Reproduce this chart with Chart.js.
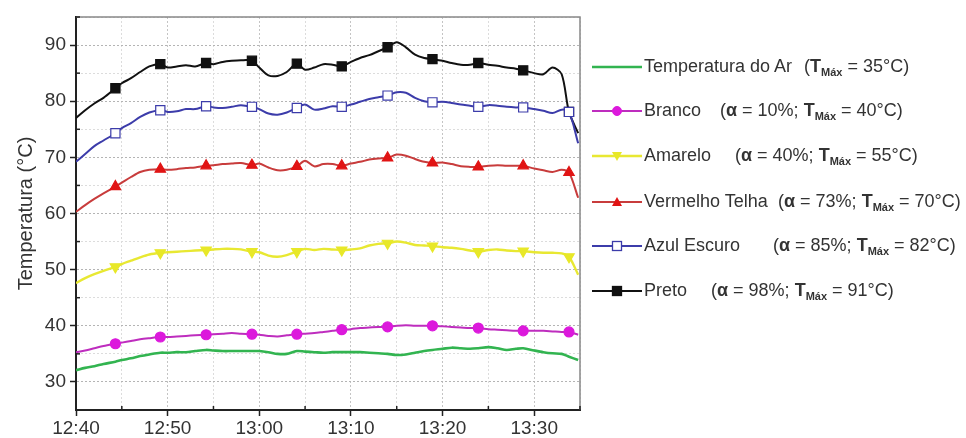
<!DOCTYPE html>
<html><head><meta charset="utf-8">
<script src="https://cdn.jsdelivr.net/npm/chart.js@4.4.0/dist/chart.umd.min.js"></script>
<style>
html,body{margin:0;padding:0;background:#fff;}
#wrap{position:relative;width:966px;height:438px;overflow:hidden;}
#c{position:absolute;left:0;top:0;}
#legend{position:absolute;left:0;top:0;width:966px;height:438px;pointer-events:none;font-family:"Liberation Sans",Arial,sans-serif;color:#333;font-size:18px;}
.item{position:absolute;left:0;height:22px;width:966px;white-space:nowrap;}
.item svg{position:absolute;left:592px;top:0;}
.item .nm{position:absolute;left:644px;top:0px;}
.item .par{position:absolute;top:0px;}
.item b{font-weight:bold;}
.item sub{font-size:11px;font-weight:bold;vertical-align:-4px;}
</style></head>
<body>
<div id="wrap"><canvas id="c" width="966" height="438"></canvas><div id="legend"></div></div>
<script>
// time in minutes after 12:40
const times = [0,1,2,3,4.3,5,6,7,8,9.2,10,11,12,13,14.2,15,16,17,18,19.2,20,21,22,23,24.1,25,26,27,28,29,30,31,32,33,34,35,36,37,38,38.9,40,41,42,43,43.9,45,46,47,48,48.8,50,51,52,53,53.8,54.8];
const markerTimes = [4.3,9.2,14.2,19.2,24.1,29,34,38.9,43.9,48.8,53.8];
const xTickLabels = ['12:40','12:50','13:00','13:10','13:20','13:30'];

const tempAr = [32.1,32.5,32.8,33.2,33.6, 33.9,34.2,34.6,34.9,35.2, 35.2,35.3,35.3,35.5,35.7, 35.6,35.5,35.5,35.5,35.5, 35.5,35.3,35.0,35.0,35.5, 35.4,35.3,35.2,35.3,35.3, 35.3,35.3,35.2,35.1,35.0, 34.8,34.9,35.2,35.5,35.7, 35.9,36.1,36.0,35.9,36.0, 36.2,36.0,35.7,35.9,36.0, 35.6,35.3,35.1,35.0,34.5, 33.9];
const branco = [35.3,35.6,36.0,36.4,36.8, 37.0,37.3,37.6,37.8,38.0, 38.0,38.1,38.2,38.3,38.4, 38.5,38.6,38.7,38.6,38.5, 38.4,38.2,38.1,38.3,38.5, 38.6,38.7,38.9,39.1,39.3, 39.4,39.6,39.7,39.8,39.8, 40.0,40.1,40.0,40.0,40.0, 39.9,39.8,39.7,39.6,39.6, 39.4,39.3,39.2,39.1,39.1, 39.1,39.1,39.0,38.9,38.9, 38.4];
const amarelo = [47.6,48.5,49.2,49.8,50.5, 51.0,51.6,52.2,52.7,53.0, 53.1,53.2,53.3,53.4,53.5, 53.6,53.7,53.7,53.6,53.2, 53.1,52.5,52.3,52.6,53.2, 53.7,53.5,53.7,53.6,53.5, 53.6,53.8,54.3,54.6,54.7, 55.0,54.8,54.4,54.3,54.2, 54.0,53.9,53.7,53.4,53.2, 53.5,53.6,53.4,53.3,53.3, 53.1,53.0,53.0,52.9,52.3, 49.1];
const vermelho = [60.3,61.5,62.6,63.6,64.8, 65.5,66.5,67.4,67.8,67.9, 67.8,67.9,68.1,68.2,68.5, 68.6,68.8,68.9,69.0,68.6, 68.9,68.2,67.7,67.8,68.4, 69.4,68.4,68.8,68.8,68.5, 68.9,69.2,69.6,69.8,69.9, 70.5,70.3,69.7,69.2,69.0, 69.1,68.8,68.4,68.3,68.3, 68.5,68.6,68.5,68.5,68.5, 68.0,67.7,67.4,67.8,67.3, 62.8];
const azul = [69.2,70.6,72.0,73.0,74.3, 75.2,76.1,77.2,78.0,78.4, 78.1,78.2,78.6,78.6,79.1, 78.9,78.8,79.0,79.3,79.0, 78.6,77.8,77.6,78.0,78.8, 79.4,78.5,78.7,79.1,79.0, 79.4,79.9,80.4,80.7,81.0, 81.6,81.5,80.6,80.0,79.8, 79.9,79.7,79.4,79.2,79.0, 79.3,79.2,79.0,78.9,78.9, 78.6,78.3,77.9,78.5,78.1, 72.5];
const preto = [77.0,78.4,79.6,80.6,82.3, 83.2,84.1,85.2,86.2,86.6, 86.0,86.2,86.4,86.2,86.8, 86.6,87.0,87.2,87.3,87.2, 86.0,84.6,84.5,85.2,86.7, 85.6,86.0,86.6,86.5,86.2, 87.0,87.7,88.2,88.9,89.6, 90.5,89.6,88.3,87.7,87.5, 87.2,86.8,86.5,86.5,86.8, 86.5,86.3,86.0,85.8,85.5, 85.0,84.8,86.0,84.8,78.1, 74.3];

const seriesNames = ['Temperatura do Ar','Branco','Amarelo','Vermelho Telha','Azul Escuro','Preto'];
const alphaPct = [null,10,40,73,85,98];
const tMax = [35,40,55,70,82,91];

const styles = [
  {line:'rgb(50,180,80)', fill:'rgb(50,180,80)', border:'rgb(50,180,80)', shape:null, r:0, rot:0, w:2.6},
  {line:'rgb(190,45,190)', fill:'rgb(220,25,220)', border:'rgb(220,25,220)', shape:'circle', r:5, rot:0, w:2},
  {line:'rgb(232,232,50)', fill:'rgb(232,232,40)', border:'rgb(232,232,40)', shape:'triangle', r:6, rot:180, w:2.4},
  {line:'rgb(200,60,60)', fill:'rgb(225,20,20)', border:'rgb(225,20,20)', shape:'triangle', r:6, rot:0, w:2},
  {line:'rgb(60,60,170)', fill:'#ffffff', border:'rgb(60,60,170)', shape:'rect', r:6.5, rot:0, w:2},
  {line:'#111111', fill:'#111111', border:'#111111', shape:'rect', r:6.5, rot:0, w:2}
];
const seriesValues = [tempAr, branco, amarelo, vermelho, azul, preto];

const datasets = seriesValues.map((vals,i)=>{
  const s = styles[i];
  return {
    label: seriesNames[i],
    data: times.map((t,k)=>({x:t,y:vals[k]})),
    borderColor: s.line,
    borderWidth: s.w,
    tension: 0.3,
    fill:false,
    pointStyle: s.shape || 'circle',
    pointRotation: s.rot,
    pointBackgroundColor: s.fill,
    pointBorderColor: s.border,
    pointBorderWidth: 1.2,
    pointRadius: ctx => (s.shape && markerTimes.includes(times[ctx.dataIndex])) ? s.r : 0,
    pointHoverRadius: 0
  };
});

const framePlugin = {
  id:'frame',
  beforeDatasetsDraw(chart){
    const {ctx, chartArea:a} = chart;
    ctx.save();
    ctx.strokeStyle = '#888';
    ctx.lineWidth = 1.5;
    ctx.beginPath();
    ctx.moveTo(a.left, a.top); ctx.lineTo(a.right, a.top); ctx.lineTo(a.right, a.bottom);
    ctx.stroke();
    ctx.restore();
  },
  afterDraw(chart){
    const {ctx, chartArea:a, scales} = chart;
    ctx.save();
    ctx.strokeStyle = '#222';
    ctx.lineWidth = 1.5;
    scales.x.ticks.forEach(t=>{
      if (t.value % 10 !== 0){
        const px = scales.x.getPixelForValue(t.value);
        ctx.beginPath(); ctx.moveTo(px, a.bottom-4); ctx.lineTo(px, a.bottom+1); ctx.stroke();
      }
    });
    scales.y.ticks.forEach(t=>{
      if (t.value % 10 !== 0){
        const py = scales.y.getPixelForValue(t.value);
        ctx.beginPath(); ctx.moveTo(a.left-1, py); ctx.lineTo(a.left+4, py); ctx.stroke();
      }
    });
    ctx.restore();
  }
};

const tickFont = {family:'"Liberation Sans", Arial, sans-serif', size:19};
const titleFont = {family:'"Liberation Sans", Arial, sans-serif', size:20};

new Chart(document.getElementById('c'), {
  type:'line',
  data:{datasets},
  options:{
    responsive:false,
    animation:false,
    layout:{padding:{left:0, top:17, right:386, bottom:0}},
    plugins:{legend:{display:false}, tooltip:{enabled:false}},
    scales:{
      x:{
        type:'linear', min:0, max:55,
        afterFit(s){ s.height = 28; },
        ticks:{stepSize:5, autoSkip:false, maxRotation:0, color:'#333', font:tickFont, padding:1,
          callback:v => (v % 10 === 0) ? xTickLabels[v/10] : ''},
        grid:{color: c => (c.tick && c.tick.value % 10 === 0) ? '#c4c4c4' : '#dcdcdc',
              lineWidth:1, drawTicks:true, tickLength:6,
              tickColor: c => (c.tick && c.tick.value % 10 === 0) ? '#222' : 'rgba(0,0,0,0)',
              tickWidth:1.5, tickBorderDash:[]},
        border:{color:'#222', width:2, dash:[2,2]}
      },
      y:{
        min:25, max:95,
        afterFit(s){ s.width = 76; },
        ticks:{stepSize:5, autoSkip:false, color:'#333', font:tickFont, padding:4,
          callback:v => (v % 10 === 0) ? String(v) : ''},
        grid:{color: c => (c.tick && c.tick.value % 10 === 0) ? '#b4b4b4' : '#dcdcdc',
              lineWidth:1, drawTicks:true, tickLength:6,
              tickColor: c => (c.tick && c.tick.value % 10 === 0) ? '#222' : 'rgba(0,0,0,0)',
              tickWidth:1.5, tickBorderDash:[]},
        border:{color:'#222', width:2, dash:[2,2]},
        title:{display:true, text:'Temperatura (°C)', color:'#333', font:titleFont, padding:{top:14,bottom:0}}
      }
    }
  },
  plugins:[framePlugin]
});

// HTML legend (rich text)
const rowTop = [56, 100, 145, 191, 235, 280];
const parLeft = [804, 720, 735, 778, 773, 711];
function markerSvg(s){
  let m = '';
  const cx = 25, cy = 11;
  if (s.shape === 'circle') m = `<circle cx="${cx}" cy="${cy}" r="4.5" fill="${s.fill}" stroke="${s.border}"/>`;
  else if (s.shape === 'rect') m = `<rect x="${cx-4.5}" y="${cy-4.5}" width="9" height="9" fill="${s.fill}" stroke="${s.border}" stroke-width="1.3"/>`;
  else if (s.shape === 'triangle' && s.rot === 180) m = `<polygon points="${cx-5},${cy-4} ${cx+5},${cy-4} ${cx},${cy+5}" fill="${s.fill}"/>`;
  else if (s.shape === 'triangle') m = `<polygon points="${cx-5},${cy+4} ${cx+5},${cy+4} ${cx},${cy-5}" fill="${s.fill}"/>`;
  return `<svg width="52" height="22"><line x1="0" y1="${cy}" x2="50" y2="${cy}" stroke="${s.line}" stroke-width="${s.w}"/>${m}</svg>`;
}
const leg = document.getElementById('legend');
seriesNames.forEach((n,i)=>{
  const d = document.createElement('div');
  d.className = 'item';
  d.style.top = rowTop[i] + 'px';
  const a = alphaPct[i] === null ? '' : `<b>α</b> = ${alphaPct[i]}%; `;
  d.innerHTML = markerSvg(styles[i]) + `<span class="nm">${n}</span>` +
    `<span class="par" style="left:${parLeft[i]}px">(${a}<b>T</b><sub>Máx</sub> = ${tMax[i]}°C)</span>`;
  leg.appendChild(d);
});
</script>
</body></html>
